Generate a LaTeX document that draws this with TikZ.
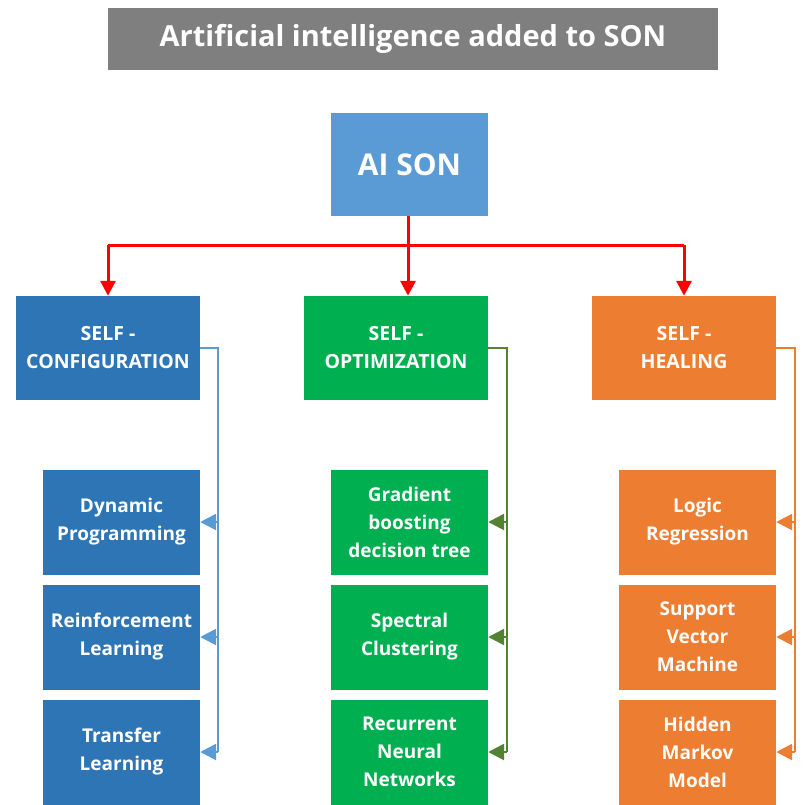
\documentclass[tikz,border=0pt]{standalone}
\usepackage{fontspec}
\setmainfont{Open Sans}
\usetikzlibrary{arrows.meta}
\definecolor{titlegray}{HTML}{7F7F7F}
\definecolor{aiblue}{HTML}{5B9BD5}
\definecolor{cfgblue}{HTML}{2E75B6}
\definecolor{optgreen}{HTML}{00B050}
\definecolor{healorange}{HTML}{ED7D31}
\definecolor{lineblue}{HTML}{5B9BD5}
\definecolor{linegreen}{HTML}{548235}
\definecolor{lineorange}{HTML}{ED7D31}
\tikzset{
  box/.style={rectangle, inner sep=0pt, text=white, font=\bfseries\fontsize{19}{28}\selectfont, align=center},
  parentbox/.style={box, minimum width=184pt, minimum height=104pt, font=\bfseries\fontsize{19.5}{28}\selectfont},
  childbox/.style={box, minimum width=157pt, minimum height=105pt},
  redarrow/.style={draw=red, line width=3pt, -{Triangle[length=15pt,width=15pt]}},
  redline/.style={draw=red, line width=3pt},
  trunk/.style={line width=2.6pt},
  subarrow/.style={line width=2.6pt, -{Triangle[length=16pt,width=16pt]}}
}
\begin{document}
\begin{tikzpicture}[x=1pt,y=-1pt]
\useasboundingbox (0,0) rectangle (806,804);
% title
\node[rectangle, fill=titlegray, minimum width=610pt, minimum height=62pt, inner sep=0pt, text=white, font=\bfseries\fontsize{29}{34}\selectfont] (title) at (413,39) {Artificial intelligence added to SON};
% root
\node[box, fill=aiblue, minimum width=157pt, minimum height=103pt, font=\bfseries\fontsize{30}{34}\selectfont] (root) at (409.5,164.5) {AI SON};
% parents
\node[parentbox, fill=cfgblue] (cfg) at (108,348) {SELF -\\CONFIGURATION};
\node[parentbox, fill=optgreen] (opt) at (396,348) {SELF -\\OPTIMIZATION};
\node[parentbox, fill=healorange] (heal) at (684,348) {SELF -\\HEALING};
% children
\node[childbox, fill=cfgblue] (c1) at (121.5,522) {Dynamic\\Programming};
\node[childbox, fill=cfgblue] (c2) at (121.5,637) {Reinforcement\\Learning};
\node[childbox, fill=cfgblue] (c3) at (121.5,752) {Transfer\\Learning};
\node[childbox, fill=optgreen] (o1) at (409.5,522) {Gradient\\boosting\\decision tree};
\node[childbox, fill=optgreen] (o2) at (409.5,637) {Spectral\\Clustering};
\node[childbox, fill=optgreen] (o3) at (409.5,752) {Recurrent\\Neural\\Networks};
\node[childbox, fill=healorange] (h1) at (697.5,522) {Logic\\Regression};
\node[childbox, fill=healorange] (h2) at (697.5,637) {Support\\Vector\\Machine};
\node[childbox, fill=healorange] (h3) at (697.5,752) {Hidden\\Markov\\Model};
% red connectors
\coordinate (bus) at (408,245);
\draw[redline] (root.south -| bus) -- (bus);
\draw[redline] (cfg.north |- bus) -- (heal.north |- bus);
\draw[redarrow] (cfg.north |- bus) -- (cfg.north);
\draw[redarrow] (bus) -- (opt.north -| bus);
\draw[redarrow] (heal.north |- bus) -- (heal.north);
% side connectors
\coordinate (bx) at (218,0);
\coordinate (gx) at (507,0);
\coordinate (ox) at (795,0);
\draw[lineblue, trunk] (cfg.east) -- (cfg.east -| bx) -- (c3.east -| bx);
\draw[lineblue, subarrow] (c1.east -| bx) -- (c1.east);
\draw[lineblue, subarrow] (c2.east -| bx) -- (c2.east);
\draw[lineblue, subarrow] (c3.east -| bx) -- (c3.east);
\draw[linegreen, trunk] (opt.east) -- (opt.east -| gx) -- (o3.east -| gx);
\draw[linegreen, subarrow] (o1.east -| gx) -- (o1.east);
\draw[linegreen, subarrow] (o2.east -| gx) -- (o2.east);
\draw[linegreen, subarrow] (o3.east -| gx) -- (o3.east);
\draw[lineorange, trunk] (heal.east) -- (heal.east -| ox) -- (h3.east -| ox);
\draw[lineorange, subarrow] (h1.east -| ox) -- (h1.east);
\draw[lineorange, subarrow] (h2.east -| ox) -- (h2.east);
\draw[lineorange, subarrow] (h3.east -| ox) -- (h3.east);
\end{tikzpicture}
\end{document}
